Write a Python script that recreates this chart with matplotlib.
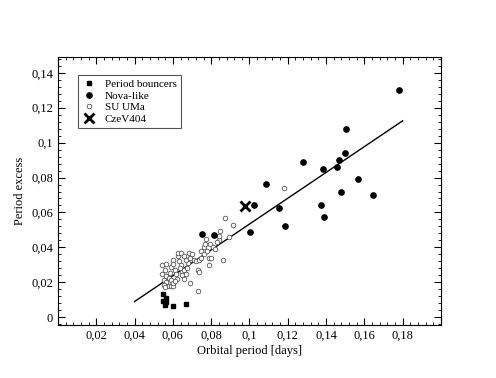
import matplotlib
matplotlib.use("Agg")
import matplotlib.pyplot as plt
from matplotlib.ticker import MultipleLocator, AutoMinorLocator, FuncFormatter

plt.rcParams['font.family'] = ['Liberation Serif', 'DejaVu Serif']

# period bouncers
pb_x = [0.0546, 0.0565, 0.0549, 0.0565, 0.0561, 0.0602, 0.0667]
pb_y = [0.0132, 0.0112, 0.0095, 0.0089, 0.0068, 0.0065, 0.0076]

# nova-like
nl_x = [0.178, 0.1505, 0.150, 0.147, 0.1458, 0.1277, 0.1383, 0.1565, 0.148, 0.1644,
        0.1086, 0.1023, 0.1154, 0.1005, 0.1184, 0.1372, 0.1388, 0.0751, 0.0814]
nl_y = [0.130, 0.108, 0.094, 0.0899, 0.086, 0.0887, 0.0848, 0.079, 0.0717, 0.0701,
        0.0761, 0.0640, 0.0626, 0.0489, 0.0523, 0.0643, 0.0572, 0.0479, 0.0470]

# SU UMa
su_x = [0.0545, 0.0565, 0.0560, 0.0545, 0.0562, 0.0552, 0.0565, 0.0553, 0.0560, 0.0578,
        0.0590, 0.0603, 0.0578, 0.0590, 0.0598, 0.0585, 0.0590, 0.0600, 0.0602, 0.0612,
        0.0618, 0.0620, 0.0610, 0.0625, 0.0628, 0.0640, 0.0632, 0.0640, 0.0635, 0.0645,
        0.0650, 0.0658, 0.0660, 0.0670, 0.0675, 0.0680, 0.0668, 0.0660, 0.0690, 0.0685,
        0.0700, 0.0690, 0.0710, 0.0720, 0.0735, 0.0730, 0.0738, 0.0732, 0.0745, 0.0745,
        0.0760, 0.0760, 0.0770, 0.0775, 0.0780, 0.0790, 0.0800, 0.0790, 0.0795, 0.0810,
        0.0820, 0.0840, 0.0843, 0.0848, 0.0830, 0.0860, 0.0870, 0.0914, 0.0891, 0.1179]
su_y = [0.0300, 0.0302, 0.0272, 0.0250, 0.0235, 0.0215, 0.0200, 0.0185, 0.0175, 0.0180,
        0.0180, 0.0178, 0.0225, 0.0215, 0.0195, 0.0255, 0.0290, 0.0330, 0.0305, 0.0270,
        0.0245, 0.0220, 0.0210, 0.0350, 0.0370, 0.0370, 0.0320, 0.0300, 0.0280, 0.0260,
        0.0240, 0.0270, 0.0220, 0.0250, 0.0280, 0.0310, 0.0330, 0.0350, 0.0340, 0.0370,
        0.0360, 0.0195, 0.0330, 0.0320, 0.0330, 0.0270, 0.0260, 0.0150, 0.0340, 0.0380,
        0.0360, 0.0400, 0.0420, 0.0450, 0.0380, 0.0340, 0.0340, 0.0300, 0.0420, 0.0400,
        0.0390, 0.0440, 0.0465, 0.0495, 0.0430, 0.0330, 0.0570, 0.0529, 0.0462, 0.0742]

# CzeV404
cz_x = [0.0979]
cz_y = [0.0636]

# linear fit
fit_x = [0.04, 0.18]
fit_y = [0.009, 0.1125]

fig = plt.figure(figsize=(4.96, 3.78), dpi=100)
ax = fig.add_axes([0.117, 0.140, 0.772, 0.709])

ax.plot(fit_x, fit_y, color='black', lw=1.0, zorder=1)
ax.plot(pb_x, pb_y, 's', color='black', ms=3.5, label='Period bouncers', zorder=3)
ax.plot(nl_x, nl_y, 'o', color='black', ms=3.8, label='Nova-like', zorder=3)
ax.plot(su_x, su_y, 'o', mfc='white', mec='#555555', mew=0.6, ms=3.3, label='SU UMa', zorder=2)
ax.plot(cz_x, cz_y, 'x', color='black', ms=7, mew=2, label='CzeV404', zorder=4)

ax.set_xlim(0, 0.2)
ax.set_ylim(-0.0045, 0.149)

ax.xaxis.set_major_locator(MultipleLocator(0.02))
ax.yaxis.set_major_locator(MultipleLocator(0.02))
ax.xaxis.set_minor_locator(AutoMinorLocator(5))
ax.yaxis.set_minor_locator(AutoMinorLocator(5))

def fmt(v, pos):
    if abs(v) < 1e-9:
        return '0'
    return ('%g' % round(v, 4)).replace('.', ',')

def fmt_x(v, pos):
    # no labels at the two ends of the x axis
    if abs(v) < 1e-9 or v > 0.19:
        return ''
    return fmt(v, pos)

ax.xaxis.set_major_formatter(FuncFormatter(fmt_x))
ax.yaxis.set_major_formatter(FuncFormatter(fmt))

ax.tick_params(which='both', direction='in', top=True, right=True, labelsize=9)
ax.tick_params(which='major', length=5, width=0.8)
ax.tick_params(which='minor', length=2.5, width=0.6)
for s in ax.spines.values():
    s.set_linewidth(0.8)

ax.set_xlabel('Orbital period [days]', fontsize=9, labelpad=2)
ax.set_ylabel('Period excess', fontsize=9, labelpad=4)

leg = ax.legend(loc='upper left', bbox_to_anchor=(0.052, 0.933), borderaxespad=0,
                fontsize=8, fancybox=False, edgecolor='#555555', framealpha=1,
                handlelength=1.2, handletextpad=0.8, borderpad=0.4, labelspacing=0.15)
leg.get_frame().set_linewidth(0.8)

fig.savefig('out.png', dpi=100)
